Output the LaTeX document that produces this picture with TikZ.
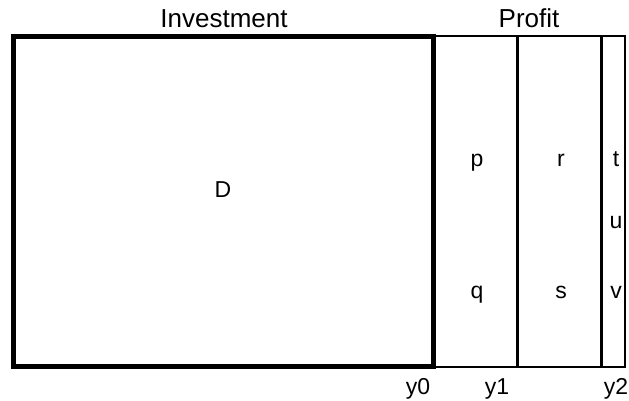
\documentclass[tikz,border=0pt]{standalone}
\usepackage{fontspec}
\setmainfont{Liberation Sans}
\usetikzlibrary{positioning}

\begin{document}
\begin{tikzpicture}[
      x=1pt, y=-1pt,
      title/.style={font=\fontsize{26}{30}\selectfont, anchor=base, inner sep=0pt},
      lbl/.style={font=\fontsize{23}{27}\selectfont, anchor=base, inner sep=0pt},
      heavy/.style={line width=5pt},
      divider/.style={line width=3pt},
      frame/.style={line width=2pt},
    ]
    \useasboundingbox (0,0) rectangle (629,400);
    % profit columns
    \draw[frame] (433,36) -- (625,36) -- (625,367) -- (433,367);
    \draw[divider] (517,36) -- (517,367);
    \draw[divider] (601,36) -- (601,367);
    % investment block
    \draw[heavy] (13,36.5) rectangle (433,366.5);
    \node[title] (inv) at (224,27) {Investment};
    \node[title] (prof) at (529,27) {Profit};
    \node[lbl] (D) at (223,197) {D};
    \node[lbl] (p) at (477,166) {p};
    \node[lbl] (q) at (477,298) {q};
    \node[lbl] (r) at (561,166) {r};
    \node[lbl] (s) at (561,298) {s};
    \node[lbl] (t) at (616,166) {t};
    \node[lbl] (u) at (616,228) {u};
    \node[lbl] (v) at (616,298) {v};
    \node[lbl] (y0) at (418,394) {y0};
    \node[lbl] (y1) at (497,394) {y1};
    \node[lbl] (y2) at (616,394) {y2};
  \end{tikzpicture}
\end{document}
